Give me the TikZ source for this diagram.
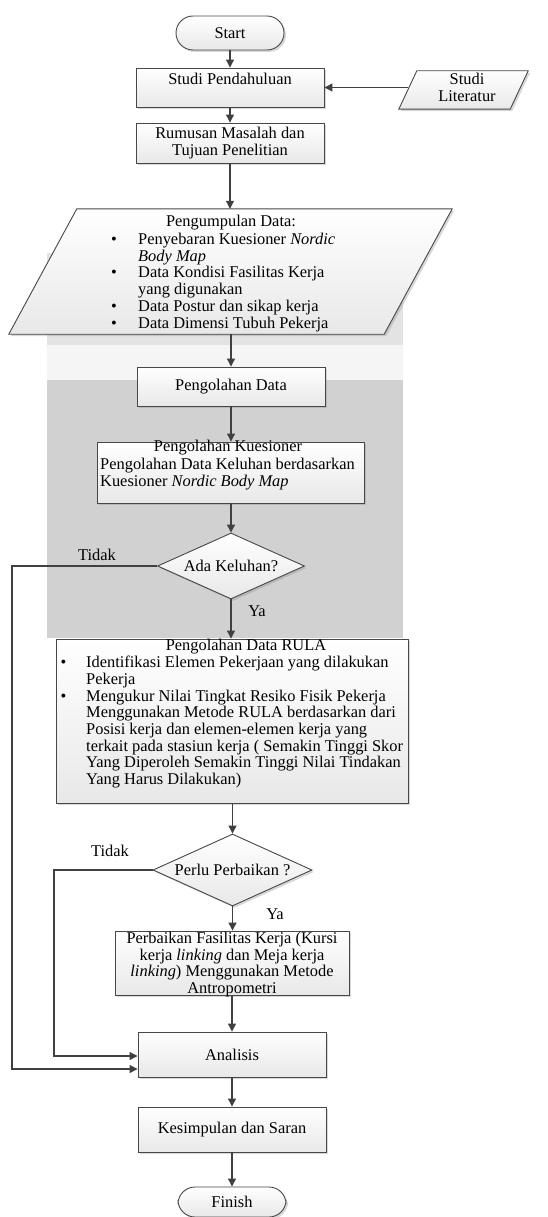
\documentclass[tikz,border=0pt]{standalone}
\usepackage{fontspec}
\setmainfont{Liberation Serif}
\usetikzlibrary{shapes.geometric,arrows.meta,shadows}
\newcommand{\bulitem}[1]{\makebox[#1][l]{\textbullet}}
\begin{document}
\begin{tikzpicture}[x=1pt,y=-1pt,
  every node/.style={font=\fontsize{16.4}{16.7}\selectfont},
  lineclr/.style={draw=black!72, line width=0.9pt},
  shapefill/.style={top color=white, bottom color=black!9,
    drop shadow={shadow xshift=2pt, shadow yshift=-2pt, opacity=0.3}},
  procbox/.style={rectangle, lineclr, shapefill, inner sep=0pt},
  termbox/.style={rectangle, rounded corners=17pt, lineclr, shapefill, inner sep=0pt},
  decbox/.style={diamond, aspect=2.2, lineclr, shapefill, inner sep=0pt},
  iofrm/.style={rectangle, draw=none, inner sep=0pt},
  txt/.style={inner sep=0pt},
  arr/.style={draw=black!75, line width=1.1pt, -{Triangle[length=8pt,width=8pt]}},
]
\useasboundingbox (0,0) rectangle (547,1217);
\fill[white] (0,0) rectangle (547,1217);
% watermark backdrop
\fill[black!11] (47,253) rectangle (403,345);
\fill[black!4] (47,345) rectangle (403,380);
\fill[black!18] (47,380) rectangle (403,638);

% shapes
\node[termbox, minimum width=108pt, minimum height=34pt] (start) at (230,33) {Start};
\node[procbox, minimum width=188pt, minimum height=39pt] (studi) at (230,87.5) {};
\node[txt] (tstudi) at (230,79) {Studi Pendahuluan};

\node[iofrm, minimum width=129pt, minimum height=38pt] (lit) at (463.5,90) {};
\path[lineclr, shapefill] ([xshift=18pt]lit.north west) -- (lit.north east)
  -- ([xshift=-18pt]lit.south east) -- (lit.south west) -- cycle;
\coordinate (litL) at ([xshift=9pt]lit.west);
\node[txt, align=center, anchor=north] (tlit) at (467,73) {Studi\\Literatur};

\node[procbox, minimum width=188pt, minimum height=40pt, align=center] (rumus) at (230,143)
  {Rumusan Masalah dan\\Tujuan Penelitian};

\node[iofrm, minimum width=443pt, minimum height=125pt] (peng) at (230.5,271.5) {};
\path[lineclr, shapefill] ([xshift=68pt]peng.north west) -- (peng.north east)
  -- ([xshift=-68pt]peng.south east) -- (peng.south west) -- cycle;
\node[txt] (tpeng) at (231,223) {Pengumpulan Data:};
\node[txt, align=left, anchor=north west] (lpeng) at (111,233)
  {\bulitem{27pt}Penyebaran Kuesioner \textit{Nordic}\\
   \hspace*{27pt}\textit{Body Map}\\
   \bulitem{27pt}Data Kondisi Fasilitas Kerja\\
   \hspace*{27pt}yang digunakan\\
   \bulitem{27pt}Data Postur dan sikap kerja\\
   \bulitem{27pt}Data Dimensi Tubuh Pekerja};

\node[procbox, minimum width=188pt, minimum height=39pt] (pdata) at (231,386.5) {Pengolahan Data};
\node[procbox, minimum width=267pt, minimum height=61pt] (kues) at (230.5,472.5) {};
\node[txt] (tkues) at (228,448) {Pengolahan Kuesioner};
\node[txt, align=left, anchor=north west] (lkues) at (100,458)
  {Pengolahan Data Keluhan berdasarkan\\Kuesioner \textit{Nordic Body Map}};
\node[decbox, minimum width=147pt, minimum height=66pt] (ada) at (231,566) {Ada Keluhan?};
\node[procbox, minimum width=352pt, minimum height=164pt] (rula) at (232,721) {};
\node[txt] (trula) at (246,647) {Pengolahan Data RULA};
\node[txt, align=left, anchor=north west] (lrula) at (60.5,656)
  {\bulitem{25.5pt}Identifikasi Elemen Pekerjaan yang dilakukan\\
   \hspace*{25.5pt}Pekerja\\
   \bulitem{25.5pt}Mengukur Nilai Tingkat Resiko Fisik Pekerja\\
   \hspace*{25.5pt}Menggunakan Metode RULA berdasarkan dari\\
   \hspace*{25.5pt}Posisi kerja dan elemen-elemen kerja yang\\
   \hspace*{25.5pt}terkait pada stasiun kerja ( Semakin Tinggi Skor\\
   \hspace*{25.5pt}Yang Diperoleh Semakin Tinggi Nilai Tindakan\\
   \hspace*{25.5pt}Yang Harus Dilakukan)};
\node[decbox, minimum width=159pt, minimum height=72pt] (perlu) at (232.5,870) {Perlu Perbaikan ?};
\node[procbox, minimum width=234pt, minimum height=64pt] (perb) at (232,963) {};
\node[txt, align=center, anchor=north] (tperb) at (232,932)
  {Perbaikan Fasilitas Kerja (Kursi\\kerja \textit{linking} dan Meja kerja\\
   \textit{linking}) Menggunakan Metode\\Antropometri};
\node[procbox, minimum width=188pt, minimum height=45pt] (anal) at (232,1054.5) {Analisis};
\node[procbox, minimum width=188pt, minimum height=45pt] (kesim) at (232,1129.5) {Kesimpulan dan Saran};
\node[termbox, minimum width=108pt, minimum height=30pt] (finish) at (232,1202) {Finish};

% labels
\node[txt] (tidak1) at (97,555) {Tidak};
\node[txt] (ya1) at (257,611) {Ya};
\node[txt] (tidak2) at (110,851) {Tidak};
\node[txt] (ya2) at (275,914) {Ya};

% loop corners
\coordinate (l1) at (12,566);
\coordinate (l2) at (54,870);

% connectors
\draw[arr] (start.south) -- (start.south |- studi.north);
\draw[arr] (litL |- studi.east) -- (studi.east);
\draw[arr] (studi.south) -- (studi.south |- rumus.north);
\draw[arr] (rumus.south) -- (rumus.south |- peng.north);
\draw[arr] (pdata.south |- peng.south) -- (pdata.north);
\draw[arr] (pdata.south) -- (pdata.south |- kues.north);
\draw[arr] (ada.north |- kues.south) -- (ada.north);
\draw[arr] (ada.south) -- (ada.south |- rula.north);
\draw[arr] (perlu.north |- rula.south) -- (perlu.north);
\draw[arr] (perlu.south) -- (perlu.south |- perb.north);
\draw[arr] (anal.north |- perb.south) -- (anal.north);
\draw[arr] (anal.south) -- (kesim.north);
\draw[arr] (kesim.south) -- (finish.north);
\draw[arr] (ada.west) -- (l1) |- ([yshift=-14.5pt]anal.west);
\draw[arr] (perlu.west) -- (l2) |- ([yshift=-1.5pt]anal.west);
\end{tikzpicture}
\end{document}
